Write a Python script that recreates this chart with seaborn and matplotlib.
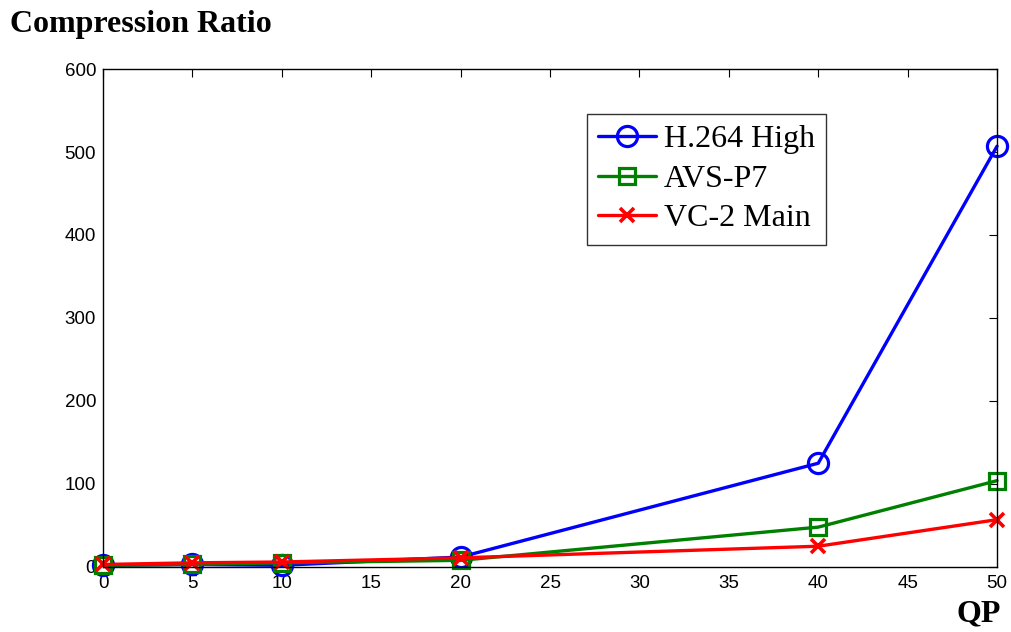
import numpy as np
import pandas as pd
import matplotlib
matplotlib.use("Agg")
import matplotlib.pyplot as plt
import seaborn as sns

# data
qp = [0, 5, 10, 20, 40, 50]
h264_high = [2, 3, 2, 12, 125, 507]
avs_p7 = [2, 3, 5, 8, 48, 104]
vc2_main = [3, 5, 6, 11, 25, 57]

series_names = ["H.264 High", "AVS-P7", "VC-2 Main"]
x_ticks = [0, 5, 10, 15, 20, 25, 30, 35, 40, 45, 50]
y_ticks = [0, 100, 200, 300, 400, 500, 600]

df = pd.DataFrame({
    "QP": qp * 3,
    "ratio": h264_high + avs_p7 + vc2_main,
    "codec": [n for n in series_names for _ in qp],
})

sns.set_style("white")
plt.rcParams["font.family"] = ["Liberation Sans", "DejaVu Sans"]
plt.rcParams["text.color"] = "black"

fig = plt.figure(figsize=(10.11, 6.32), dpi=100)
ax = fig.add_axes([0.1019, 0.1029, 0.8843, 0.7879])

styles = {
    "H.264 High": dict(color="#0000ff", marker="o", ms=14.5, mfc="none", mew=2.3),
    "AVS-P7": dict(color="#008000", marker="s", ms=11.5, mfc="none", mew=2.3),
    "VC-2 Main": dict(color="#ff0000", marker="x", ms=10, mew=2.6),
}
for name in series_names:
    st = styles[name]
    sns.lineplot(data=df[df["codec"] == name], x="QP", y="ratio", ax=ax,
                 color=st["color"], marker=st["marker"], markersize=st["ms"],
                 markerfacecolor=st.get("mfc", st["color"]),
                 markeredgecolor=st["color"], markeredgewidth=st["mew"],
                 linewidth=2.4, label=name, clip_on=False)

ax.set_xlim(0, 50)
ax.set_ylim(0, 600)
ax.set_xticks(x_ticks)
ax.set_yticks(y_ticks)
ax.set_xlabel("")
ax.set_ylabel("")
ax.tick_params(direction="in", length=6, width=0.8, top=True, right=True,
               labelsize=13.5, colors="black")
ax.tick_params(axis="x", pad=6)
ax.tick_params(axis="y", pad=5)
for sp in ax.spines.values():
    sp.set_visible(True)
    sp.set_color("black")
    sp.set_linewidth(1.0)

leg = ax.legend(loc="upper left", bbox_to_anchor=(0.5806, 0.820),
                bbox_transform=fig.transFigure,
                prop={"family": "Liberation Serif", "size": 23},
                frameon=True, fancybox=False, edgecolor="black",
                handlelength=1.8, borderpad=0.35, labelspacing=0.32,
                handletextpad=0.25, borderaxespad=0)
leg.get_frame().set_linewidth(1.0)

fig.text(0.01, 0.962, "Compression Ratio", family="Liberation Serif",
         weight="bold", size=23, ha="left", va="center", color="black")
fig.text(0.99, 0.028, "QP", family="Liberation Serif",
         weight="bold", size=23, ha="right", va="center", color="black")

fig.savefig("out.png", dpi=100)
